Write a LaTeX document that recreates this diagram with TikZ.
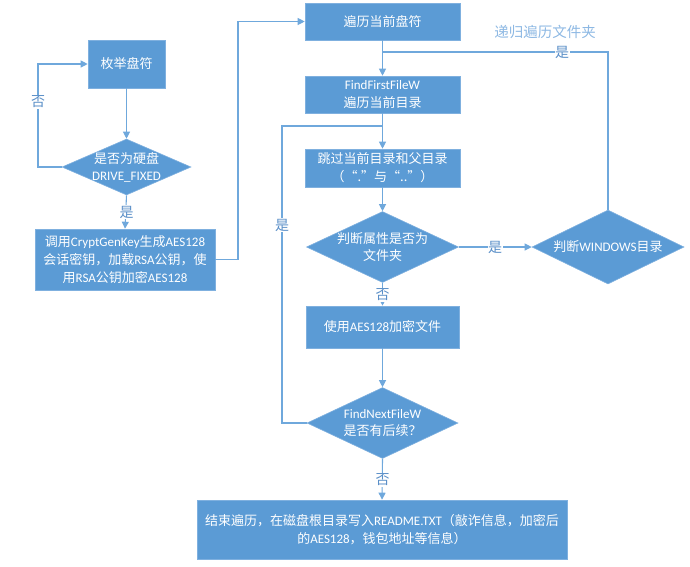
\documentclass[tikz,border=0pt]{standalone}
\usepackage{fontspec}
\setmainfont{Carlito}
\newfontfamily\cjk{Noto Sans CJK SC}
\usetikzlibrary{shapes.geometric,arrows.meta}
\definecolor{boxblue}{HTML}{5B9BD5}
\definecolor{edgeblue}{HTML}{7FB0DF}
\definecolor{lineblue}{HTML}{6FA8DC}
\definecolor{lblblue}{HTML}{5A8FC8}
\definecolor{reclbl}{HTML}{8DB8E3}
\newcommand\zh[1]{{\cjk #1}}
\tikzset{
  box/.style={rectangle, fill=boxblue, draw=edgeblue, line width=0.6pt, text=white,
    align=center, font=\fontsize{13}{18}\selectfont, inner sep=0pt},
  dia/.style={diamond, fill=boxblue, draw=edgeblue, line width=0.6pt, inner sep=0pt},
  dtext/.style={text=white, align=center, font=\fontsize{13}{17}\selectfont, inner sep=0pt},
  conn/.style={draw=lineblue, line width=1.1pt},
  arr/.style={conn, -{Triangle[length=7pt,width=7pt]}},
  lbl/.style={fill=white, text=lblblue, font=\fontsize{14}{15}\selectfont, inner sep=0.5pt},
}
\begin{document}
\begin{tikzpicture}[x=1pt,y=-1pt]
\useasboundingbox (0,0) rectangle (690,566);
% boxes
\node[box, minimum width=77, minimum height=48] (b1) at (126.5,64) {\zh{枚举盘符}};
\node[dia, minimum width=129, minimum height=56] (d1) at (126.5,167) {};
\node[dtext] (t1) at (126.5,167) {\zh{是否为硬盘}\\DRIVE\_FIXED};
\node[box, minimum width=180, minimum height=61] (b2) at (125,259.5)
  {\zh{调用}CryptGenKey\zh{生成}AES128\\\zh{会话密钥，加载}RSA\zh{公钥，使}\\\zh{用}RSA\zh{公钥加密}AES128};
\node[box, minimum width=155, minimum height=37] (b3) at (382.5,21.5) {\zh{遍历当前盘符}};
\node[box, minimum width=155, minimum height=37] (b4) at (382.5,94.5) {FindFirstFileW\\\zh{遍历当前目录}};
\node[box, minimum width=155, minimum height=38] (b5) at (382.5,168) {\zh{跳过当前目录和父目录}\\\zh{（“.”与“..”）}};
\node[dia, minimum width=152, minimum height=71] (d2) at (382.5,247) {};
\node[dtext] (t2) at (382.5,247) {\zh{判断属性是否为}\\\zh{文件夹}};
\node[dia, minimum width=152, minimum height=74] (d3) at (608,247) {};
\node[dtext] (t3) at (608,247) {\zh{判断}WINDOWS\zh{目录}};
\node[box, minimum width=153, minimum height=42] (b6) at (382.5,327) {\zh{使用}AES128\zh{加密文件}};
\node[dia, minimum width=151, minimum height=71] (d4) at (382.5,423) {};
\node[dtext] (t4) at (382.5,423) {FindNextFileW\\\zh{是否有后续？}};
\node[box, minimum width=370, minimum height=59] (b7) at (382,529.5)
  {\zh{结束遍历，在磁盘根目录写入}README.TXT\zh{（敲诈信息，加密后}\\\zh{的}AES128\zh{，钱包地址等信息）}};
% helper coordinates
\coordinate (c1) at (38,167);
\coordinate (c2) at (238,259.5);
\coordinate (j1) at (382.5,52);
\coordinate (j2) at (382.5,126);
\coordinate (c3) at (282,423);
% connectors
\draw[arr] (b1) -- (d1);
\draw[arr] (d1.west) -- (c1) |- (b1.west);
\node[lbl] (n1) at (38,102) {\zh{否}};
\draw[arr] (d1.south) -- (b2.north);
\node[lbl] (y1) at (126.5,212) {\zh{是}};
\draw[arr] (b2.east) -- (c2) |- (b3.west);
\draw[arr] (b3) -- (b4);
\draw[conn] (d3.north) |- (j1);
\node[lbl] (y2) at (562,52) {\zh{是}};
\node[text=reclbl, font=\fontsize{14.5}{15}\selectfont, inner sep=0pt] (rec) at (545,32) {\zh{递归遍历文件夹}};
\draw[arr] (b4) -- (b5);
\draw[conn] (d4.west) -- (c3) |- (j2);
\node[lbl] (y3) at (282,225) {\zh{是}};
\draw[arr] (b5) -- (d2.north);
\draw[arr] (d2.east) -- (d3.west);
\node[lbl] (y4) at (495,247) {\zh{是}};
\draw[arr] (d2.south) -- (b6.north);
\node[lbl] (n2) at (382.5,295) {\zh{否}};
\draw[arr] (b6) -- (d4.north);
\draw[arr] (d4.south) -- (b7.north);
\node[lbl] (n3) at (382.5,480) {\zh{否}};
\end{tikzpicture}
\end{document}
